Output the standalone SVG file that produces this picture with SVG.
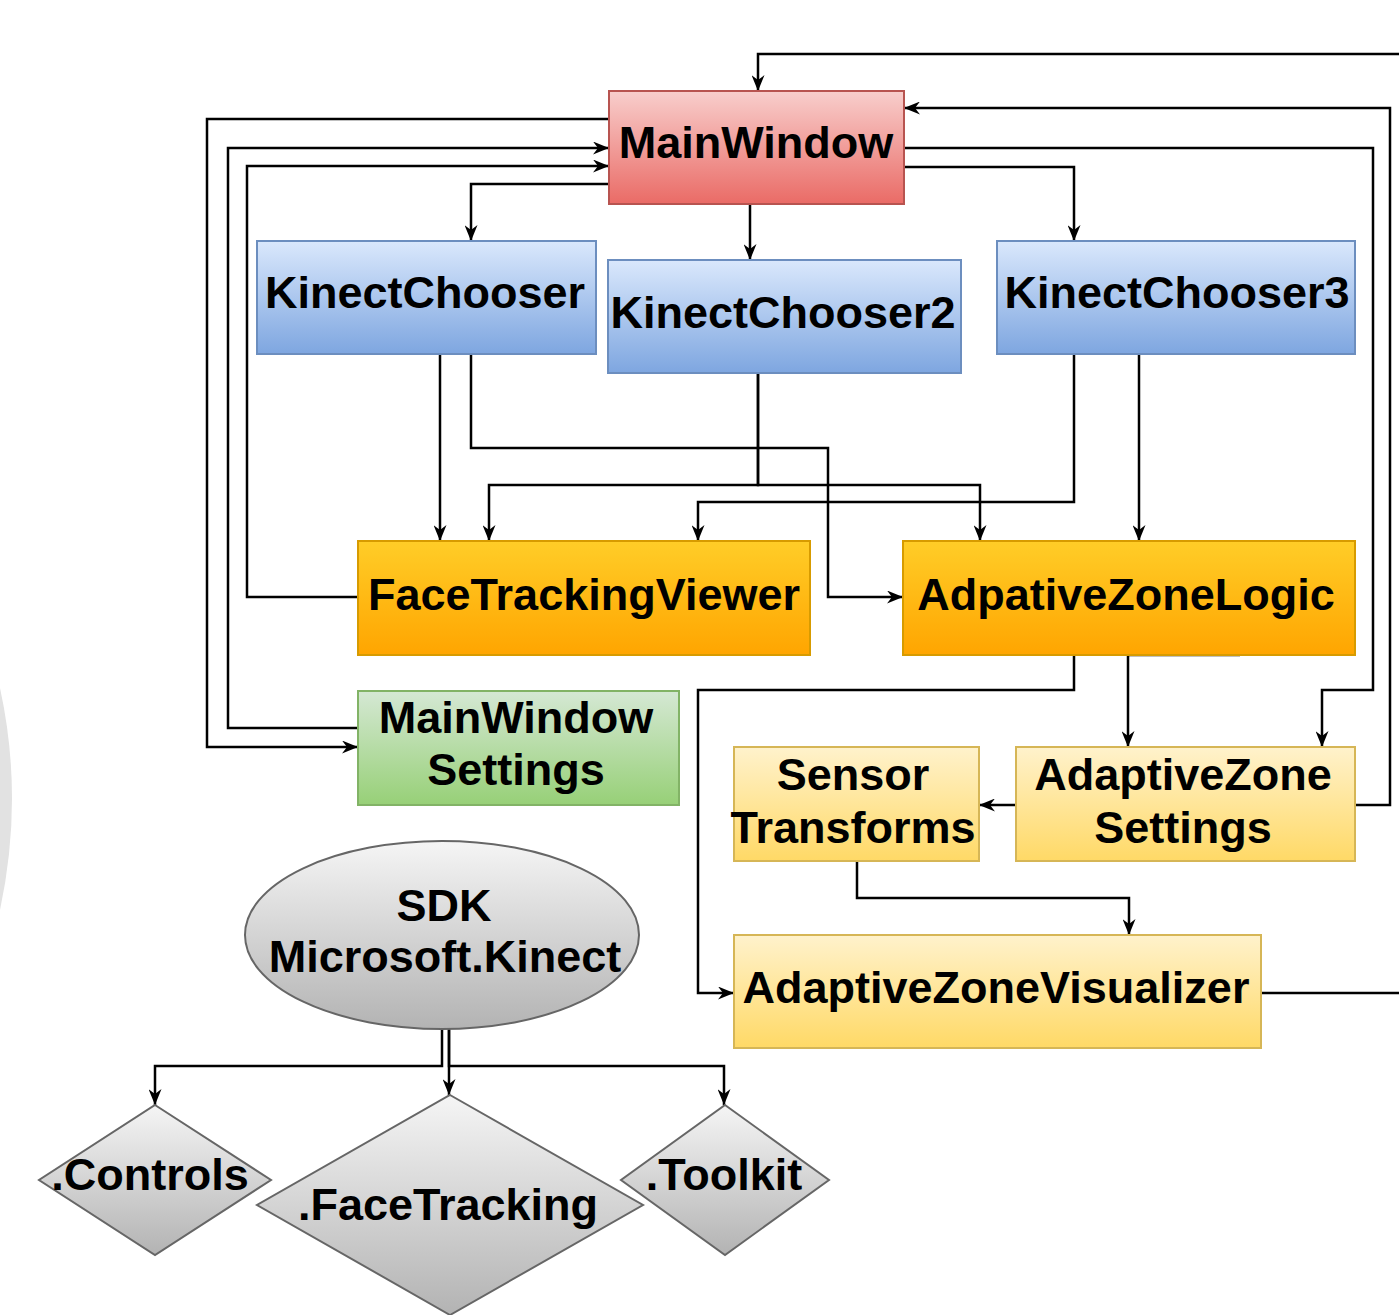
<svg xmlns="http://www.w3.org/2000/svg" width="1399" height="1315" viewBox="0 0 1399 1315">
<style>
.lbl{font-family:"Liberation Sans",Arial,sans-serif;font-weight:bold;font-size:45px;fill:#000;text-anchor:middle}
.ln{fill:none;stroke:#000;stroke-width:2.5}
.red{fill:url(#gRed);stroke:#b85450;stroke-width:2}
.blue{fill:url(#gBlue);stroke:#6c8ebf;stroke-width:2}
.orange{fill:url(#gOrange);stroke:#d79b00;stroke-width:2}
.green{fill:url(#gGreen);stroke:#82b366;stroke-width:2}
.yellow{fill:url(#gYellow);stroke:#d6b656;stroke-width:2}
.grey{fill:url(#gGrey);stroke:#666;stroke-width:2}
</style>
<defs>
<linearGradient id="gRed" x1="0" y1="0" x2="0" y2="1"><stop offset="0" stop-color="#f8cecc"/><stop offset="1" stop-color="#ea6b66"/></linearGradient>
<linearGradient id="gBlue" x1="0" y1="0" x2="0" y2="1"><stop offset="0" stop-color="#dae8fc"/><stop offset="1" stop-color="#7ea6e0"/></linearGradient>
<linearGradient id="gOrange" x1="0" y1="0" x2="0" y2="1"><stop offset="0" stop-color="#ffcd28"/><stop offset="1" stop-color="#ffa500"/></linearGradient>
<linearGradient id="gGreen" x1="0" y1="0" x2="0" y2="1"><stop offset="0" stop-color="#d5e8d4"/><stop offset="1" stop-color="#97d077"/></linearGradient>
<linearGradient id="gYellow" x1="0" y1="0" x2="0" y2="1"><stop offset="0" stop-color="#fff2cc"/><stop offset="1" stop-color="#ffd966"/></linearGradient>
<linearGradient id="gGrey" x1="0" y1="0" x2="0" y2="1"><stop offset="0" stop-color="#f5f5f5"/><stop offset="1" stop-color="#b3b3b3"/></linearGradient>
<marker id="arr" viewBox="0 0 16 13" refX="16" refY="6.5" markerWidth="16" markerHeight="13" orient="auto" markerUnits="userSpaceOnUse"><path d="M0,0 L16,6.5 L0,13 L5,6.5 Z" fill="#000"/></marker>
</defs>
<rect width="1399" height="1315" fill="#fff"/>
<path d="M0,688 Q24,798 0,910 Z" fill="#e2e2e2"/>

<g id="connectors">
<path class="ln" d="M1261,993 H1410 V54 H758 V91" marker-end="url(#arr)"/>
<path class="ln" d="M1355,805 H1390 V108 H904" marker-end="url(#arr)"/>
<path class="ln" d="M904,148 H1373 V690 H1322 V747" marker-end="url(#arr)"/>
<path class="ln" d="M904,167 H1074 V241" marker-end="url(#arr)"/>
<path class="ln" d="M750,204 V260" marker-end="url(#arr)"/>
<path class="ln" d="M609,184 H471 V241" marker-end="url(#arr)"/>
<path class="ln" d="M609,119 H207 V747 H358" marker-end="url(#arr)"/>
<path class="ln" d="M358,728 H228 V148 H609" marker-end="url(#arr)"/>
<path class="ln" d="M358,597 H247 V166 H609" marker-end="url(#arr)"/>
<path class="ln" d="M440,354 V541" marker-end="url(#arr)"/>
<path class="ln" d="M471,354 V448 H828 V597 H903" marker-end="url(#arr)"/>
<path class="ln" d="M758,373 V485 H489 V541" marker-end="url(#arr)"/>
<path class="ln" d="M758,373 V485 H980 V541" marker-end="url(#arr)"/>
<path class="ln" d="M1074,354 V502 H698 V541" marker-end="url(#arr)"/>
<path class="ln" d="M1139,354 V541" marker-end="url(#arr)"/>
<path class="ln" d="M1074,655 V690 H698 V993 H734" marker-end="url(#arr)"/>
<path class="ln" d="M1240,655 H1128 V747" marker-end="url(#arr)"/>
<path class="ln" d="M1016,805 H979" marker-end="url(#arr)"/>
<path class="ln" d="M857,861 V898 H1129 V935" marker-end="url(#arr)"/>
<path class="ln" d="M442,1029 V1066 H155 V1105" marker-end="url(#arr)"/>
<path class="ln" d="M449,1029 V1066 H724 V1105" marker-end="url(#arr)"/>
<path class="ln" d="M449,1029 V1095" marker-end="url(#arr)"/>
</g>

<g id="MainWindow"><rect class="red" x="609" y="91" width="295" height="113"/><text class="lbl" x="756" y="158">MainWindow</text></g>
<g id="KinectChooser"><rect class="blue" x="257" y="241" width="339" height="113"/><text class="lbl" x="425" y="308">KinectChooser</text></g>
<g id="KinectChooser2"><rect class="blue" x="608" y="260" width="353" height="113"/><text class="lbl" x="783" y="328">KinectChooser2</text></g>
<g id="KinectChooser3"><rect class="blue" x="997" y="241" width="358" height="113"/><text class="lbl" x="1177" y="308">KinectChooser3</text></g>
<g id="FaceTrackingViewer"><rect class="orange" x="358" y="541" width="452" height="114"/><text class="lbl" x="584" y="610">FaceTrackingViewer</text></g>
<g id="AdpativeZoneLogic"><rect class="orange" x="903" y="541" width="452" height="114"/><text class="lbl" x="1126" y="610">AdpativeZoneLogic</text></g>
<g id="MainWindowSettings"><rect class="green" x="358" y="691" width="321" height="114"/><text class="lbl" x="516" y="733">MainWindow</text><text class="lbl" x="516" y="785">Settings</text></g>
<g id="SensorTransforms"><rect class="yellow" x="734" y="747" width="245" height="114"/><text class="lbl" x="853" y="790">Sensor</text><text class="lbl" x="853" y="843">Transforms</text></g>
<g id="AdaptiveZoneSettings"><rect class="yellow" x="1016" y="747" width="339" height="114"/><text class="lbl" x="1183" y="790">AdaptiveZone</text><text class="lbl" x="1183" y="843">Settings</text></g>
<g id="AdaptiveZoneVisualizer"><rect class="yellow" x="734" y="935" width="527" height="113"/><text class="lbl" x="996" y="1003">AdaptiveZoneVisualizer</text></g>
<g id="SDK"><ellipse class="grey" cx="442" cy="935" rx="197" ry="94"/><text class="lbl" x="444" y="921">SDK</text><text class="lbl" x="445" y="972">Microsoft.Kinect</text></g>
<g id="Controls"><polygon class="grey" points="155,1105 271,1180 155,1255 39,1180"/><text class="lbl" x="150" y="1190">.Controls</text></g>
<g id="FaceTracking"><polygon class="grey" points="450,1095 643,1205 450,1315 257,1205"/><text class="lbl" x="448" y="1220">.FaceTracking</text></g>
<g id="Toolkit"><polygon class="grey" points="725,1105 829,1180 725,1255 621,1180"/><text class="lbl" x="724" y="1190">.Toolkit</text></g>
</svg>
